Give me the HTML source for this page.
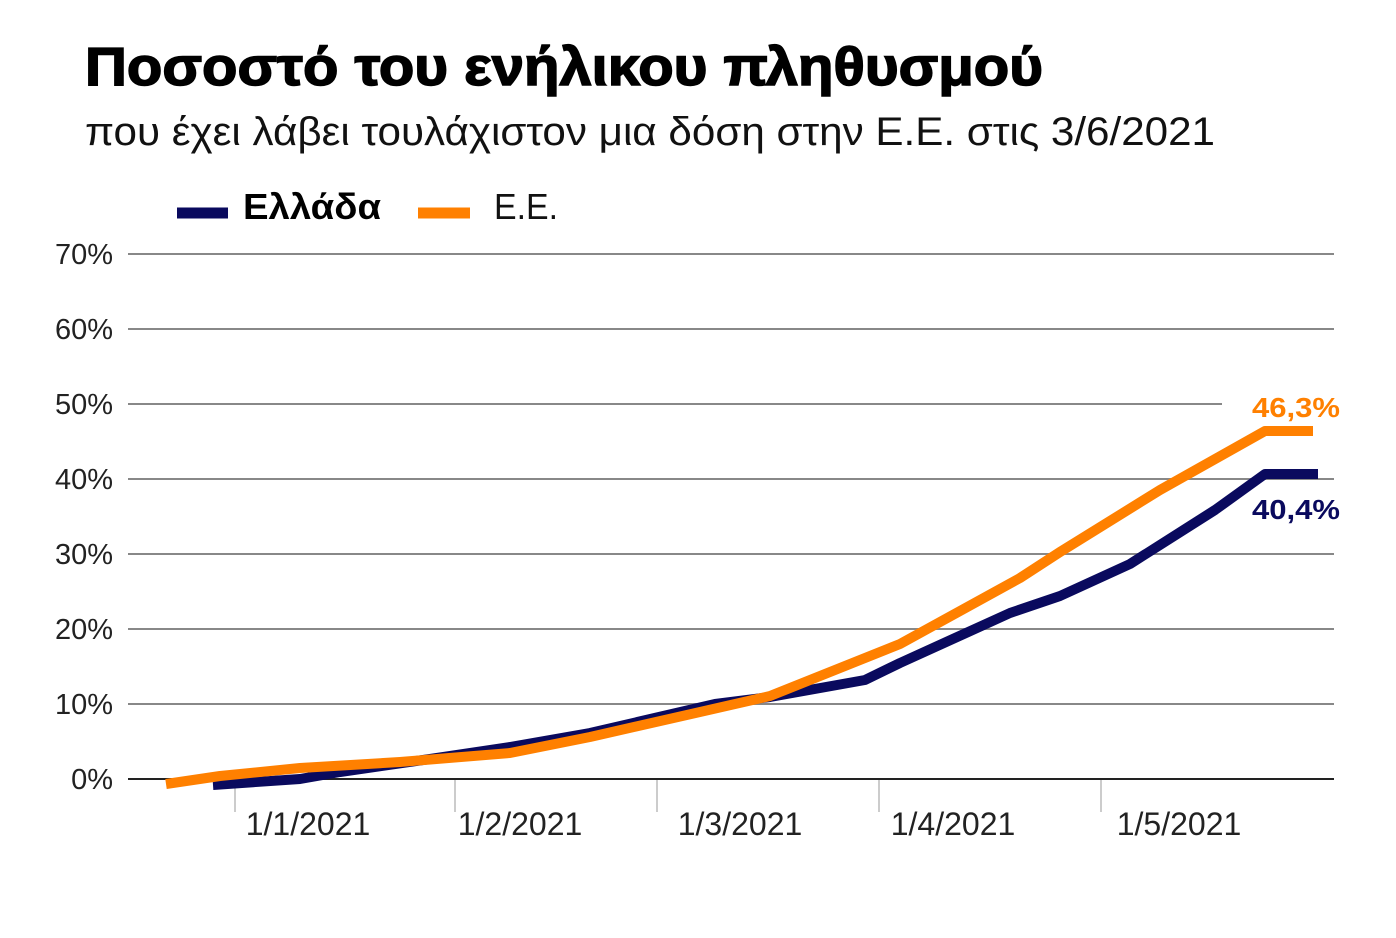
<!DOCTYPE html>
<html><head><meta charset="utf-8"><style>
html,body{margin:0;padding:0;background:#fff;}
svg{display:block;font-family:"Liberation Sans","DejaVu Sans",sans-serif;}
</style></head><body>
<svg width="1396" height="938" viewBox="0 0 1396 938" xmlns="http://www.w3.org/2000/svg">
<rect width="1396" height="938" fill="#fff"/>
<text x="85" y="85" font-size="54" font-weight="bold" fill="#000" textLength="958" lengthAdjust="spacingAndGlyphs" stroke="#000" stroke-width="1.5">Ποσοστό του ενήλικου πληθυσμού</text>
<text x="85" y="145" font-size="40" fill="#111" textLength="1130" lengthAdjust="spacingAndGlyphs">που έχει λάβει τουλάχιστον μια δόση στην Ε.Ε. στις 3/6/2021</text>
<line x1="177" y1="213" x2="228" y2="213" stroke="#0a0a5e" stroke-width="11"/>
<text x="243" y="219" font-size="36" font-weight="bold" fill="#000" textLength="138" lengthAdjust="spacingAndGlyphs">Ελλάδα</text>
<line x1="418" y1="213" x2="470" y2="213" stroke="#ff8000" stroke-width="11"/>
<text x="494" y="219" font-size="36" fill="#111" textLength="64" lengthAdjust="spacingAndGlyphs">Ε.Ε.</text>
<g stroke="#888" stroke-width="2">
<line x1="128" y1="254" x2="1334" y2="254"/>
<line x1="128" y1="329" x2="1334" y2="329"/>
<line x1="128" y1="404" x2="1222" y2="404"/>
<line x1="128" y1="479" x2="1334" y2="479"/>
<line x1="128" y1="554" x2="1334" y2="554"/>
<line x1="128" y1="629" x2="1334" y2="629"/>
<line x1="128" y1="704" x2="1334" y2="704"/>
</g>
<line x1="128" y1="779" x2="1334" y2="779" stroke="#222" stroke-width="2"/>
<g stroke="#bbb" stroke-width="1.5">
<line x1="235" y1="780" x2="235" y2="812"/>
<line x1="455" y1="780" x2="455" y2="812"/>
<line x1="657" y1="780" x2="657" y2="812"/>
<line x1="879" y1="780" x2="879" y2="812"/>
<line x1="1101" y1="780" x2="1101" y2="812"/>
</g>
<g font-size="29" fill="#222" text-anchor="end">
<text x="113" y="264">70%</text><text x="113" y="339">60%</text><text x="113" y="414">50%</text>
<text x="113" y="489">40%</text><text x="113" y="564">30%</text><text x="113" y="639">20%</text>
<text x="113" y="714">10%</text><text x="113" y="789">0%</text>
</g>
<g font-size="32" fill="#222" text-anchor="middle">
<text x="308" y="835">1/1/2021</text><text x="520" y="835">1/2/2021</text><text x="740" y="835">1/3/2021</text>
<text x="953" y="835">1/4/2021</text><text x="1179" y="835">1/5/2021</text>
</g>
<polyline fill="none" stroke="#0a0a5e" stroke-width="10" stroke-linejoin="round" points="213,785 300,779 340,772 430,759 510,747 590,733 715,704 770,697 865,680 900,663 1010,613 1060,596 1130,564 1215,510 1265,474 1318,474"/>
<polyline fill="none" stroke="#ff8000" stroke-width="10" stroke-linejoin="round" points="166,784 220,776 300,768 400,762 510,753 590,737 700,712 770,696 820,676 900,644 1020,578 1060,552 1160,490 1265,431 1313,431"/>
<text x="1252" y="417" font-size="28" font-weight="bold" fill="#ff8000" textLength="88" lengthAdjust="spacingAndGlyphs">46,3%</text>
<text x="1252" y="519" font-size="28" font-weight="bold" fill="#0a0a5e" textLength="88" lengthAdjust="spacingAndGlyphs">40,4%</text>
</svg>
</body></html>
